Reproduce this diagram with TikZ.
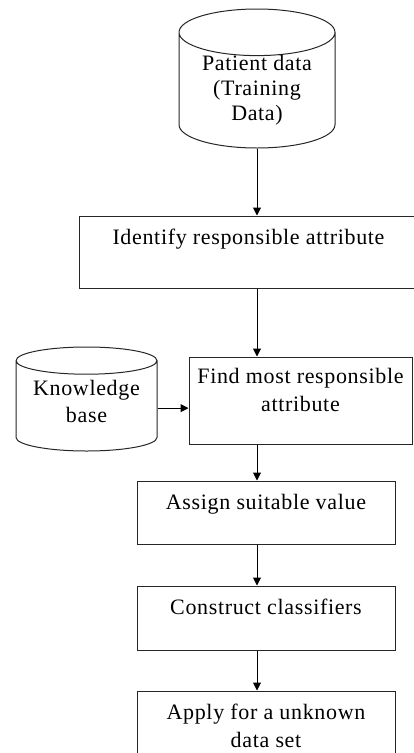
\documentclass[tikz,border=0pt]{standalone}
\usepackage{fontspec}
\setmainfont{Liberation Serif}[LetterSpace=3]
\usetikzlibrary{
    arrows.meta,
    shapes.geometric
}

\begin{document}
\begin{tikzpicture}[
        x=1pt, y=-1pt,
        >={Triangle[length=8pt,width=8pt]},
        line width=1pt,
        stepbox/.style={
            rectangle,
            draw=black!85,
            inner ysep=0pt,
            align=center,
            font=\fontsize{22}{28}\selectfont
        },
        store/.style={
            cylinder,
            shape border rotate=90,
            anchor=shape center,
            draw=black!85,
            align=center,
            font=\fontsize{22}{27}\selectfont
        }
    ]
    \useasboundingbox (0,0) rectangle (414,753);

    \node[store, minimum width=156pt, minimum height=139pt, shape aspect=0.4,
        text height=57pt, text depth=4pt] (P) at (257,78.5)
        {Patient data\\[-2pt](Training\\[-2pt]Data)};
    \node[store, minimum width=141pt, minimum height=104pt, shape aspect=0.24,
        text height=34pt, text depth=6pt] (KB) at (86.5,399)
        {Knowledge\\base};

    \node[stepbox, minimum width=339pt, text height=28pt, text depth=44pt] (I) at (248.5,252)
        {Identify responsible attribute};
    \node[stepbox, minimum width=223pt, text height=54pt, text depth=33pt] (F) at (300.5,400.5)
        {Find most responsible\\attribute};
    \node[stepbox, minimum width=258pt, text height=28pt, text depth=35pt] (A) at (266,512.5)
        {Assign suitable value};
    \node[stepbox, minimum width=258pt, text height=28pt, text depth=36pt] (C) at (266,618)
        {Construct classifiers};
    \node[stepbox, minimum width=258pt, text height=56pt, text depth=53pt] (U) at (266,745.5)
        {Apply for a unknown\\data set};

    \draw[->] (P.south) -- (P.south |- I.north);
    \draw[->] (P.south |- I.south) -- (P.south |- F.north);
    \draw[->] (KB.east) -- (KB.east -| F.west);
    \draw[->] (P.south |- F.south) -- (P.south |- A.north);
    \draw[->] (P.south |- A.south) -- (P.south |- C.north);
    \draw[->] (P.south |- C.south) -- (P.south |- U.north);
\end{tikzpicture}
\end{document}
